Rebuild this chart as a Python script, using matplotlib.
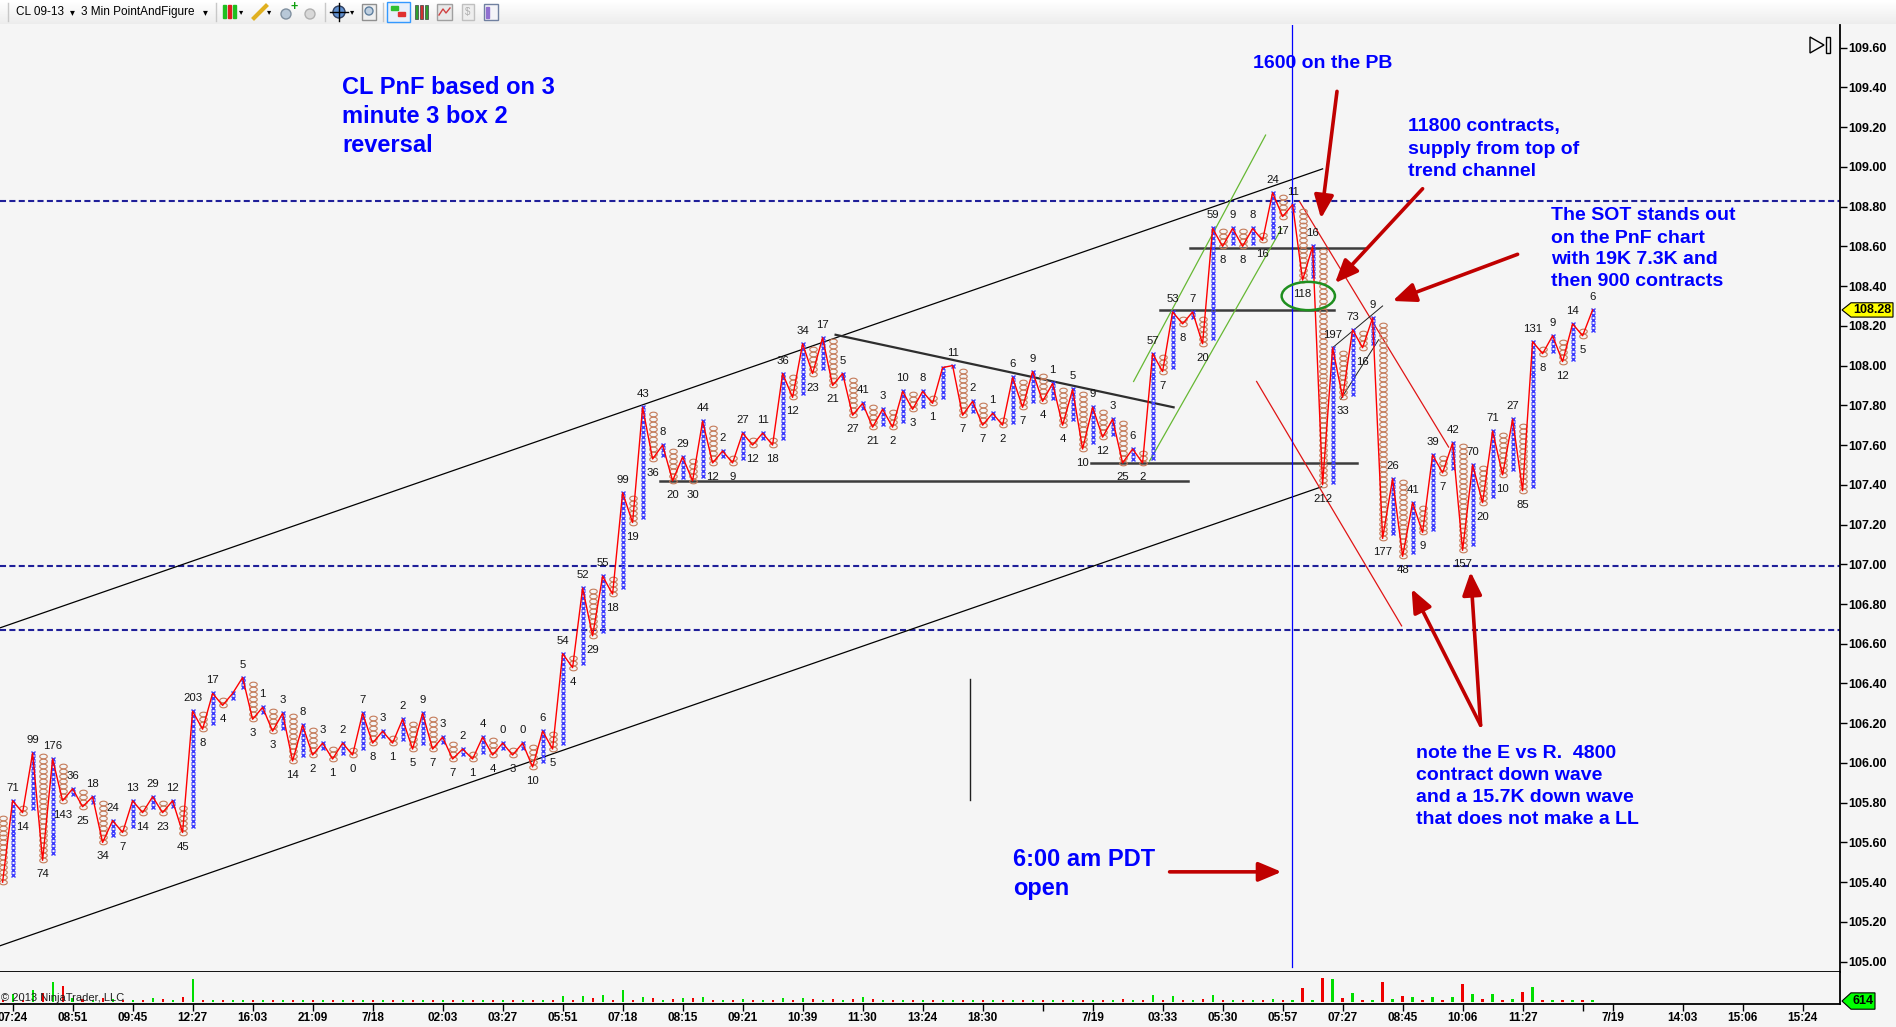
import numpy as np
import matplotlib
matplotlib.use("Agg")
import matplotlib.pyplot as plt
from matplotlib.patches import Ellipse, Polygon, Rectangle, Circle
from matplotlib.path import Path
from matplotlib.transforms import blended_transform_factory

plt.rcParams['font.family'] = ['Liberation Sans', 'DejaVu Sans']

# ---------------- data ----------------
# column type of each Point & Figure column (X = rising, O = falling)
col_type = list("OXOXOXOXOXOXOXOXOXOXOXO" + "XX" + "OX" * 34 + "O" + "XX" + "OX" * 32)

# extreme price of each column (top of X column, bottom of O column)
col_price = [
    105.40, 105.81, 105.75, 106.05, 105.51, 106.02, 105.81, 105.87, 105.78, 105.83,
    105.60, 105.71, 105.65, 105.81, 105.75, 105.83, 105.75, 105.81, 105.65, 106.26,
    106.17, 106.35, 106.29, 106.35, 106.43, 106.22, 106.28, 106.16, 106.25, 106.01,
    106.19, 106.04, 106.10, 106.02, 106.10, 106.04, 106.25, 106.10, 106.16, 106.10,
    106.22, 106.07, 106.25, 106.07, 106.13, 106.02, 106.07, 106.02, 106.13, 106.04,
    106.10, 106.04, 106.10, 105.98, 106.16, 106.07, 106.55, 106.48, 106.88, 106.64,
    106.94, 106.85, 107.36, 107.21, 107.79, 107.53, 107.60, 107.42, 107.54, 107.42,
    107.72, 107.51, 107.57, 107.51, 107.66, 107.60, 107.66, 107.60, 107.96, 107.84,
    108.11, 107.96, 108.14, 107.90, 107.96, 107.75, 107.81, 107.69, 107.78, 107.69,
    107.87, 107.78, 107.87, 107.81, 107.99, 108.00, 107.75, 107.82, 107.70, 107.76,
    107.70, 107.94, 107.79, 107.97, 107.82, 107.91, 107.70, 107.88, 107.58, 107.79,
    107.64, 107.73, 107.51, 107.58, 107.51, 108.06, 107.97, 108.27, 108.21, 108.27,
    108.11, 108.69, 108.60, 108.69, 108.60, 108.69, 108.63, 108.87, 108.75, 108.81,
    108.43, 108.60, 107.40, 108.09, 107.84, 108.18, 108.09, 108.24, 107.13, 107.43,
    107.04, 107.31, 107.16, 107.55, 107.46, 107.61, 107.07, 107.50, 107.31, 107.67,
    107.45, 107.73, 107.37, 108.12, 108.06, 108.15, 108.02, 108.21, 108.15, 108.28,
]

# volume of each column in hundreds of contracts (label printed on chart)
col_label = (
    [""]
    + ["71", "14", "99", "74", "176", "143", "36", "25", "18", "34", "24", "7",
       "13", "14", "29", "23", "12", "45", "203", "8", "17", "4"]
    + ["", "5"]
    + ["3", "1", "3", "3", "14", "8", "2", "3", "1", "2", "0", "7", "8", "3", "1",
       "2", "5", "9", "7", "3", "7", "2", "1", "4", "4", "0", "3", "0", "10", "6", "5"]
    + ["54", "4", "52", "29", "55", "18", "99", "19", "43", "36", "8", "20", "29",
       "30", "44", "12", "2", "9", "27", "12", "11", "18", "36", "12", "34", "23",
       "17", "21", "5", "27", "41", "21", "3", "2", "10", "3", "8", "1"]
    + [""]
    + ["11", "7", "2", "7", "1", "2", "6", "7", "9", "4", "1", "4", "5", "10", "9",
       "12", "3", "25", "6", "2", "57", "7", "53", "8", "7"]
    + ["20", "59", "8", "9", "8", "8", "16", "24", "17", "11", "118", "16", "212",
       "197", "33", "73", "16", "9", "177", "26", "48", "41", "9", "39", "7", "42",
       "157", "70", "20", "71", "10", "27", "85", "131", "8", "9", "12", "14", "5", "6"]
)
col_volume = [int(s) if s else 2 for s in col_label]

first_start = 105.75
box = 0.025

dashed_levels = [108.83, 106.99, 106.67]
price_ticks = [round(105.0 + 0.2 * k, 2) for k in range(24)]
last_price = 108.28
last_volume = 614

tick_cols = [1, 7, 13, 19, 25, 31, 37, 44, 50, 56, 62, 68, 74, 80, 86, 92, 98, 104,
             109, 116, 122, 128, 134, 140, 146, 152, 158, 161, 168, 174, 180]
tick_labels = ["07:24", "08:51", "09:45", "12:27", "16:03", "21:09", "7/18", "02:03",
               "03:27", "05:51", "07:18", "08:15", "09:21", "10:39", "11:30", "13:24",
               "18:30", "", "7/19", "03:33", "05:30", "05:57", "07:27", "08:45",
               "10:06", "11:27", "", "7/19", "14:03", "15:06", "15:24"]

# chart drawings (column, price)
channel_upper = [(-0.26, 106.68), (132.0, 108.99)]
channel_lower = [(-0.26, 105.08), (131.9, 107.39)]
support_lines = [[(65.7, 107.42), (118.5, 107.42)],
                 [(108.8, 107.51), (135.4, 107.51)],
                 [(115.7, 108.28), (133.1, 108.28)],
                 [(118.7, 108.59), (136.3, 108.59)]]
resistance_line = [(83.3, 108.155), (117.1, 107.79)]
green_lines = [[(113.1, 107.92), (126.3, 109.16)],
               [(114.7, 107.52), (127.9, 108.69)]]
red_lines = [[(129.7, 108.825), (144.6, 107.59)],
             [(125.4, 107.92), (139.9, 106.69)]]
small_lines = [[(133.0, 108.09), (138.0, 108.30)],
               [(133.8, 107.83), (137.6, 108.13)]]
open_col = 128.97
arrows = [((133.44, 109.38), (131.84, 108.74)),
          ((142.0, 108.89), (133.24, 108.415)),
          ((151.5, 108.56), (139.0, 108.325)),
          ((116.7, 105.452), (127.9, 105.452)),
          ((147.8, 106.19), (140.9, 106.876)),
          ((147.8, 106.19), (146.8, 106.962))]

# ---------------- figure ----------------
W, H = 1896, 1027
fig = plt.figure(figsize=(W / 100, H / 100), dpi=100)
BG = '#f5f5f5'
fig.patch.set_facecolor(BG)


def rect(x0, y0, x1, y1):
    return [x0 / W, 1 - y1 / H, (x1 - x0) / W, (y1 - y0) / H]


def fp(x, y):
    return (x / W, 1 - y / H)


ax = fig.add_axes(rect(0, 25, 1840, 972))
vax = fig.add_axes(rect(0, 972, 1840, 1004))
for a in (ax, vax):
    a.set_facecolor(BG)
    a.set_xlim(-0.26, 183.74)
    for s in ('left', 'top'):
        a.spines[s].set_visible(False)
    a.spines['right'].set_linewidth(1.3)
    a.spines['bottom'].set_linewidth(1.3)

ax.set_ylim(104.948, 109.714)
ax.set_xticks([])
ax.yaxis.tick_right()
ax.set_yticks(price_ticks)
ax.set_yticklabels([f"{p:.2f}" for p in price_ticks], fontsize=9, fontweight='bold')
ax.tick_params(axis='y', direction='out', length=5, width=1, pad=1)

# dashed horizontal levels
for lv in dashed_levels:
    ax.axhline(lv, color='#1f1f99', lw=1.5, dashes=(2.9, 1.6), zorder=2)

# trend lines / drawings
for seg in (channel_upper, channel_lower):
    (x0, y0), (x1, y1) = seg
    ax.plot([x0, x1], [y0, y1], color='black', lw=0.9, zorder=3)
for (x0, y0), (x1, y1) in support_lines:
    ax.plot([x0, x1], [y0, y1], color='#3c3c3c', lw=1.8, zorder=3)
(x0, y0), (x1, y1) = resistance_line
ax.plot([x0, x1], [y0, y1], color='#2e2e2e', lw=1.6, zorder=3)
for (x0, y0), (x1, y1) in green_lines:
    ax.plot([x0, x1], [y0, y1], color='#66b833', lw=0.9, zorder=3)
for (x0, y0), (x1, y1) in red_lines:
    ax.plot([x0, x1], [y0, y1], color='#e01515', lw=0.9, zorder=3)
for (x0, y0), (x1, y1) in small_lines:
    ax.plot([x0, x1], [y0, y1], color='#202020', lw=0.7, zorder=3)
ax.axvline(open_col, color='#0000ff', lw=0.9, ymin=0.005, zorder=3)
ax.plot([96.74, 96.74], [106.423, 105.814], color='#202020', lw=1.0, zorder=3)
ax.add_patch(Ellipse((130.57, 108.35), 5.33, 0.1424, fill=False,
                     edgecolor='#1f8f1f', lw=1.8, zorder=6))

# ---------------- point & figure columns ----------------
theta = np.linspace(0, 2 * np.pi, 41)
oval = Path(np.column_stack([np.cos(theta), 0.62 * np.sin(theta)]))
xs_x, ys_x, xs_o, ys_o = [], [], [], []
prev = first_start
for i, (t, p) in enumerate(zip(col_type, col_price)):
    n = max(1, int(round(abs(p - prev) / box)))
    if t == 'X':
        vals = p - box * np.arange(n)
        xs_x += [i] * n
        ys_x += list(vals)
    else:
        vals = p + box * np.arange(n)
        xs_o += [i] * n
        ys_o += list(vals)
    prev = p

ax.plot(xs_x, ys_x, ls='none', marker='x', ms=3.4, mew=1.0, color='#3c3cff', zorder=4)
ax.plot(xs_o, ys_o, ls='none', marker=oval, ms=5.4, mew=0.8, mfc='none',
        mec='#c47a58', zorder=4)
ax.plot(range(len(col_price)), col_price, color='#ff0000', lw=1.0, zorder=5)

for i, (t, p, s) in enumerate(zip(col_type, col_price, col_label)):
    if not s:
        continue
    off = 13 if t == 'X' else -14
    ax.annotate(s, (i, p), xytext=(0, off), textcoords='offset pixels',
                ha='center', va='center', fontsize=8.2, color='#141414', zorder=7)

# arrows
for tail, head in arrows:
    ax.annotate('', xy=head, xytext=tail,
                arrowprops=dict(arrowstyle='-|>,head_length=1.0,head_width=0.42',
                                color='#c00000', lw=2.6, shrinkA=0, shrinkB=0,
                                mutation_scale=14), zorder=8)

# last price marker on the axis
bt = blended_transform_factory(ax.transAxes, ax.transData)
hh = 0.036
xa, xb, xc = 1842 / 1840, 1851 / 1840, 1893 / 1840
ax.add_patch(Polygon([(xa, last_price), (xb, last_price + hh), (xc, last_price + hh),
                      (xc, last_price - hh), (xb, last_price - hh)], closed=True,
                     transform=bt, facecolor='#ffff00', edgecolor='black', lw=0.8,
                     clip_on=False, zorder=10))
ax.text((xb + xc) / 2, last_price, f"{last_price:.2f}", transform=bt, ha='center',
        va='center', fontsize=9, fontweight='bold', clip_on=False, zorder=11)

# ---------------- volume ----------------
vol_colors = ['#00dd00' if t == 'X' else '#ee0000' for t in col_type]
vax.bar(range(len(col_volume)), [max(v, 16) for v in col_volume], width=0.22,
        color=vol_colors, bottom=0)
vax.set_ylim(-20, 262)
vax.set_yticks([])
vax.set_xticks(tick_cols)
vax.set_xticklabels(tick_labels, fontsize=8.5, fontweight='bold')
vax.tick_params(axis='x', direction='out', length=5, width=1, pad=1)
bt2 = blended_transform_factory(vax.transAxes, vax.transData)
lv = last_volume / 100
vax.add_patch(Polygon([(xa, lv), (xb, lv + 72), (1875 / 1840, lv + 72),
                       (1875 / 1840, lv - 72), (xb, lv - 72)], closed=True,
                      transform=bt2, facecolor='#00ff00', edgecolor='black', lw=0.8,
                      clip_on=False, zorder=10))
vax.text((xb + 1875 / 1840) / 2, lv, f"{last_volume}", transform=bt2, ha='center',
         va='center', fontsize=9, fontweight='bold', clip_on=False, zorder=11)
fig.text(*fp(1, 998), "\u00a9 2013 NinjaTrader, LLC", fontsize=8, va='center',
         color='#202020')

# ---------------- annotations ----------------
BLUE = '#0000ff'


def block(x, ys, lines, size):
    for y, s in zip(ys, lines):
        fig.text(*fp(x, y), s, color=BLUE, fontsize=size, fontweight='bold', va='center')


block(342, [88, 117, 146], ["CL PnF based on 3", "minute 3 box 2", "reversal"], 17)
block(1253, [64], ["1600 on the PB"], 14)
block(1408, [127, 149, 171], ["11800 contracts,", "supply from top of", "trend channel"], 14)
block(1551, [216, 238, 260, 282], ["The SOT stands out", "on the PnF chart",
                                   "with 19K 7.3K and", "then 900 contracts"], 14)
block(1416, [753, 775, 797, 819], ["note the E vs R.  4800", "contract down wave",
                                   "and a 15.7K down wave", "that does not make a LL"], 14)
block(1013, [860, 889], ["6:00 am PDT", "open"], 17)

# ---------------- toolbar ----------------
tb = fig.add_axes(rect(0, 0, W, 24))
grad = np.linspace(1.0, 0.925, 24)[:, None] * np.ones((24, 10))
tb.imshow(grad, cmap='gray', vmin=0, vmax=1, aspect='auto', extent=(0, W, 24, 0))
tb.set_xlim(0, W)
tb.set_ylim(24, 0)
tb.axis('off')
for sx in (8, 216, 325, 383):
    tb.plot([sx, sx], [3, 21], color='#c8c8c8', lw=1)
tb.text(16, 12, "CL 09-13", fontsize=8.5, va='center')
tb.text(70, 12, "\u25be", fontsize=7, va='center', family='DejaVu Sans')
tb.text(81, 12, "3 Min PointAndFigure", fontsize=8.5, va='center')
tb.text(203, 12, "\u25be", fontsize=7, va='center', family='DejaVu Sans')
# icons
for k, c in enumerate(['#20c020', '#e02020', '#20c020']):
    tb.add_patch(Rectangle((223 + 5 * k, 5), 3.5, 13, color=c))
tb.text(239, 12, "\u25be", fontsize=6, va='center', family='DejaVu Sans')
tb.plot([254, 266], [18, 6], color='#e0b020', lw=3)
tb.text(267, 12, "\u25be", fontsize=6, va='center', family='DejaVu Sans')
tb.add_patch(Circle((286, 14), 5, facecolor='#b8c8d8', edgecolor='#8090a0'))
tb.text(294, 7, "+", color='#10a010', fontsize=9, fontweight='bold', ha='center', va='center')
tb.add_patch(Circle((310, 14), 5, facecolor='#d8d8d8', edgecolor='#b0b0b0'))
tb.add_patch(Circle((339, 12), 6, facecolor='#6090d0', edgecolor='#304060'))
tb.plot([330, 348], [12, 12], color='black', lw=1)
tb.plot([339, 339], [3, 21], color='black', lw=1)
tb.text(350, 12, "\u25be", fontsize=6, va='center', family='DejaVu Sans')
tb.add_patch(Rectangle((362, 4), 14, 16, facecolor='#f0f0f0', edgecolor='#909090'))
tb.add_patch(Circle((369, 11), 4, facecolor='#c0d0e0', edgecolor='#6080a0'))
tb.add_patch(Rectangle((387, 2), 23, 20, facecolor='#e8f0fa', edgecolor='#3399ff', lw=1))
tb.add_patch(Rectangle((391, 6), 7, 4, color='#30c030'))
tb.add_patch(Rectangle((398, 12), 7, 4, color='#e03030'))
for k, c in enumerate(['#30a030', '#d03030', '#30a030']):
    tb.add_patch(Rectangle((415 + 5 * k, 5), 3.5, 14, facecolor=c, edgecolor='#404040', lw=0.5))
tb.add_patch(Rectangle((437, 4), 15, 16, facecolor='#e8e8e8', edgecolor='#a0a0a0'))
tb.plot([439, 443, 446, 450], [15, 9, 13, 8], color='#d04040', lw=1)
tb.add_patch(Rectangle((462, 4), 12, 16, facecolor='#eeeeee', edgecolor='#c0c0c0'))
tb.text(468, 12, "$", color='#b0b0b0', fontsize=7, ha='center', va='center')
tb.add_patch(Rectangle((484, 4), 14, 16, facecolor='#f4f4f8', edgecolor='#7080a0'))
tb.add_patch(Rectangle((486, 7), 3, 11, color='#9070d0'))

# top-right icon
fig.patches.append(Polygon([fp(1810, 37), fp(1810, 53), fp(1824, 45)], closed=True,
                           fill=False, edgecolor='black', lw=1, transform=fig.transFigure))
fig.patches.append(Rectangle(fp(1826, 53), 4 / W, 16 / H, fill=False, edgecolor='black',
                             lw=1, transform=fig.transFigure))

fig.savefig("out.png", dpi=100, facecolor=fig.get_facecolor())
